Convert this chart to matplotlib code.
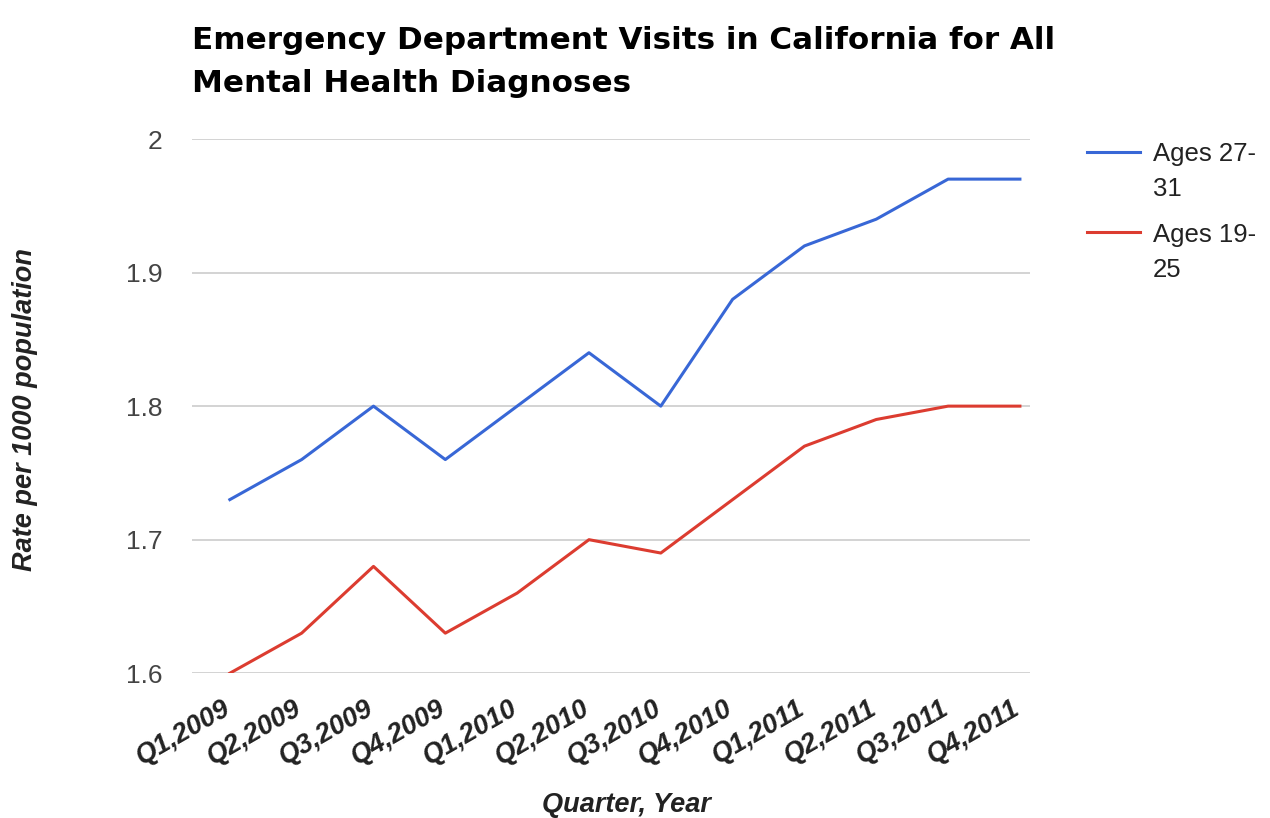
import matplotlib.pyplot as plt
import matplotlib.transforms as mtransforms

plt.rcParams['font.family'] = ['Liberation Sans', 'DejaVu Sans']

quarters = ["Q1,2009", "Q2,2009", "Q3,2009", "Q4,2009", "Q1,2010", "Q2,2010",
            "Q3,2010", "Q4,2010", "Q1,2011", "Q2,2011", "Q3,2011", "Q4,2011"]
ages_27_31 = [1.73, 1.76, 1.80, 1.76, 1.80, 1.84, 1.80, 1.88, 1.92, 1.94, 1.97, 1.97]
ages_19_25 = [1.60, 1.63, 1.68, 1.63, 1.66, 1.70, 1.69, 1.73, 1.77, 1.79, 1.80, 1.80]
yticks = [1.6, 1.7, 1.8, 1.9, 2.0]
ytick_labels = ["1.6", "1.7", "1.8", "1.9", "2"]

fig = plt.figure(figsize=(12.7, 8.18), dpi=100)
ax = fig.add_axes([0.151, 0.177, 0.660, 0.653])

x = list(range(len(quarters)))
ax.plot(x, ages_27_31, color="#3867d6", lw=2.2, label="Ages 27-\n31", zorder=3)
ax.plot(x, ages_19_25, color="#dc3c30", lw=2.2, label="Ages 19-\n25", zorder=3)

ax.set_xlim(-0.53, 11.14)
ax.set_ylim(1.6, 2.0)
ax.set_yticks(yticks)
ax.set_yticklabels(ytick_labels, fontsize=19, color="#444444")
ax.set_xticks(x)
ax.set_xticklabels(quarters, rotation=30, ha="right", rotation_mode="anchor",
                   fontsize=19.5, fontweight="bold", fontstyle="italic", color="#222222")
ax.tick_params(length=0)
ax.tick_params(axis="y", pad=21)
ax.tick_params(axis="x", pad=15)
# nudge the slanted labels so they end right under their tick
shift = mtransforms.ScaledTranslation(-6 / 72, -1 / 72, fig.dpi_scale_trans)
for lab in ax.get_xticklabels():
    lab.set_transform(lab.get_transform() + shift)
ax.grid(axis="y", color="#cccccc", lw=1.2)
for s in ax.spines.values():
    s.set_visible(False)

ax.set_xlabel("Quarter, Year", fontsize=19.5, fontweight="bold", fontstyle="italic",
              color="#222222")
ax.xaxis.set_label_coords(0.518, -0.222)
ax.set_ylabel("Rate per 1000 population", fontsize=19.5, fontweight="bold",
              fontstyle="italic", color="#222222")
ax.yaxis.set_label_coords(-0.184, 0.494)

fig.text(0.151, 0.968, "Emergency Department Visits in California for All\nMental Health Diagnoses",
         fontsize=22.3, fontweight="bold", va="top", ha="left", linespacing=1.58,
         family="DejaVu Sans")

leg = ax.legend(loc="upper left", bbox_to_anchor=(0.856, 0.826), bbox_transform=fig.transFigure,
                frameon=False, fontsize=18.5, handlelength=2.06, handletextpad=0.5,
                labelspacing=0.85, labelcolor="#222222", borderpad=0, borderaxespad=0)
for t in leg.get_texts():
    t.set_linespacing(1.58)
# put the legend keys level with the first line of each label
for h in leg.legend_handles:
    h.set_ydata([v + 15 for v in h.get_ydata()])

fig.savefig("out.png", dpi=100)
